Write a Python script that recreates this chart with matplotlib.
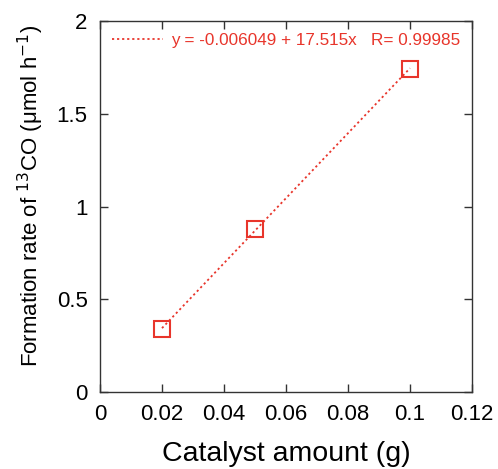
import matplotlib
matplotlib.use("Agg")
import matplotlib.pyplot as plt
import numpy as np

plt.rcParams['font.family'] = ['Liberation Sans', 'DejaVu Sans']

catalyst = [0.02, 0.05, 0.1]
rate = [0.34, 0.877, 1.741]
intercept = -0.006049
slope = 17.515
r_value = 0.99985
xticks = [0, 0.02, 0.04, 0.06, 0.08, 0.1, 0.12]
yticks = [0, 0.5, 1, 1.5, 2]

red = '#e8352b'
dark = '#333333'
fig = plt.figure(figsize=(4.98, 4.69), dpi=100)
ax = fig.add_axes([100/498, 1-392/469, 372/498, 371/469])

xfit = np.array([catalyst[0], catalyst[-1]])
ax.plot(xfit, intercept + slope*xfit, ls=(0, (1.2, 1.6)), color=red, lw=1.3,
        label=f'y = {intercept} + {slope}x   R= {r_value}')
ax.plot(catalyst, rate, ls='none', marker='s', ms=11, mfc='none', mec=red, mew=1.5)

ax.set_xlim(0, 0.12)
ax.set_ylim(0, 2)
ax.set_xticks(xticks)
ax.set_xticklabels(['0', '0.02', '0.04', '0.06', '0.08', '0.1', '0.12'])
ax.set_yticks(yticks)
ax.set_yticklabels(['0', '0.5', '1', '1.5', '2'])
ax.tick_params(direction='in', top=True, right=True, length=6, width=1,
               labelsize=16, pad=9, color=dark, labelcolor='black')
for s in ax.spines.values():
    s.set_linewidth(1)
    s.set_color(dark)
ax.set_xlabel('Catalyst amount (g)', fontsize=20.5)
ax.xaxis.set_label_coords(0.5, -0.133)
ax.set_ylabel(r'Formation rate of $^{13}$CO (μmol h$^{-1}$)', fontsize=16)
ax.yaxis.set_label_coords(-0.145, 0.528)
leg = ax.legend(loc='upper left', frameon=False, fontsize=12.3, handlelength=3.0,
                handletextpad=0.45, borderaxespad=0.3)
for t in leg.get_texts():
    t.set_color(red)
fig.savefig('out.png', dpi=100)
